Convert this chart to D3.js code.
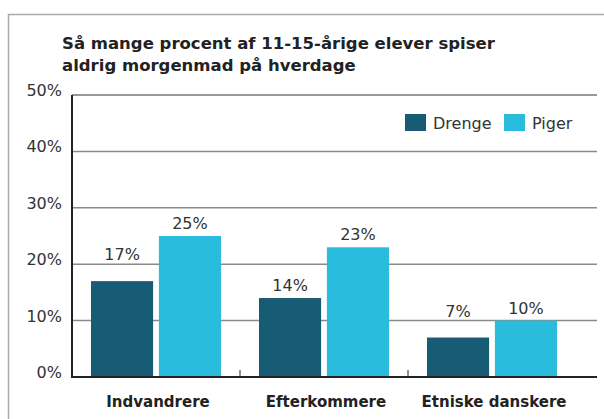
<!DOCTYPE html>
<html>
<head>
<meta charset="utf-8">
<script src="https://cdn.jsdelivr.net/npm/d3@7"></script>
<style>
  body { margin: 0; background: #fff; }
  svg { display: block; font-family: "DejaVu Sans", Verdana, sans-serif; }
</style>
</head>
<body>
<div id="chart"></div>
<script>
var categories = ["Indvandrere", "Efterkommere", "Etniske danskere"];
var series = ["Drenge", "Piger"];
var drenge = [17, 14, 7];
var piger = [25, 23, 10];
var yTicks = [0, 10, 20, 30, 40, 50];
var titleLines = ["Så mange procent af 11-15-årige elever spiser", "aldrig morgenmad på hverdage"];

var width = 604, height = 419;
var plot = { left: 72, right: 576, top: 95, bottom: 377, lineEnd: 597 };
var colors = ["#185b74", "#2abcdd"];

var svg = d3.select("#chart").append("svg")
  .attr("width", width)
  .attr("height", height);

/* outer frame */
svg.append("path")
  .attr("d", "M8.5," + (height + 5) + "V14.5H" + (width + 5))
  .attr("fill", "none")
  .attr("stroke", "#aaa")
  .attr("stroke-width", 1.5);

/* title */
svg.append("text")
  .attr("x", 62)
  .attr("y", 49)
  .attr("font-size", "16.5px")
  .attr("font-weight", "bold")
  .attr("fill", "#222")
  .selectAll("tspan")
  .data(titleLines)
  .enter()
  .append("tspan")
  .attr("x", 62)
  .attr("dy", (d, i) => i ? 22 : 0)
  .text(d => d);

var x0 = d3.scaleBand()
  .domain(categories)
  .range([plot.left, plot.right]);

var x1 = d3.scaleBand()
  .domain(series)
  .range([0, x0.bandwidth()])
  .paddingInner(0.085)
  .paddingOuter(0.28);

var y = d3.scaleLinear()
  .domain([0, 50])
  .range([plot.bottom, plot.top]);

/* gridlines */
svg.append("g")
  .selectAll("line")
  .data(yTicks.filter(d => d > 0))
  .enter()
  .append("line")
  .attr("x1", plot.left)
  .attr("x2", plot.lineEnd)
  .attr("y1", d => y(d))
  .attr("y2", d => y(d))
  .attr("stroke", d => d === 50 ? "#333" : "#8a8a8a")
  .attr("stroke-width", d => d === 50 ? 1.2 : 1.5);

/* y tick labels */
svg.append("g")
  .selectAll("text")
  .data(yTicks)
  .enter()
  .append("text")
  .attr("x", 62)
  .attr("y", d => y(d) + 1)
  .attr("text-anchor", "end")
  .attr("font-size", "16px")
  .attr("fill", "#333")
  .text(d => d + "%");

/* bars */
var rows = categories.map((c, i) => ({ cat: c, values: [drenge[i], piger[i]] }));

var groups = svg.append("g")
  .selectAll("g")
  .data(rows)
  .enter()
  .append("g")
  .attr("transform", d => `translate(${x0(d.cat)},0)`);

groups.selectAll("rect")
  .data(d => d.values.map((v, j) => ({ key: series[j], value: v, idx: j })))
  .enter()
  .append("rect")
  .attr("x", d => x1(d.key))
  .attr("y", d => y(d.value))
  .attr("width", x1.bandwidth())
  .attr("height", d => plot.bottom - y(d.value))
  .attr("fill", d => colors[d.idx]);

/* value labels, nudged above a gridline if they would cross it */
var capH = 12;
function labelY(v) {
  var base = y(v) - 7;
  yTicks.forEach(t => {
    var gy = y(t);
    if (t > 0 && gy > base - capH - 1 && gy < base + 1) base = gy - 4;
  });
  return base;
}

groups.selectAll("text")
  .data(d => d.values.map((v, j) => ({ key: series[j], value: v })))
  .enter()
  .append("text")
  .attr("x", d => x1(d.key) + x1.bandwidth() / 2)
  .attr("y", d => labelY(d.value))
  .attr("text-anchor", "middle")
  .attr("font-size", "16px")
  .attr("fill", "#333")
  .text(d => d.value + "%");

/* axes */
svg.append("line")
  .attr("x1", plot.left).attr("x2", plot.left)
  .attr("y1", plot.top).attr("y2", plot.bottom + 1)
  .attr("stroke", "#222").attr("stroke-width", 2);

svg.append("line")
  .attr("x1", plot.left - 1).attr("x2", plot.lineEnd)
  .attr("y1", plot.bottom).attr("y2", plot.bottom)
  .attr("stroke", "#222").attr("stroke-width", 2);

/* category separators */
svg.append("g")
  .selectAll("line")
  .data(categories.slice(1))
  .enter()
  .append("line")
  .attr("x1", d => x0(d)).attr("x2", d => x0(d))
  .attr("y1", plot.bottom - 7).attr("y2", plot.bottom)
  .attr("stroke", "#222").attr("stroke-width", 1);

/* category labels */
svg.append("g")
  .selectAll("text")
  .data(categories)
  .enter()
  .append("text")
  .attr("x", d => x0(d) + x0.bandwidth() / 2 + 2)
  .attr("y", 407)
  .attr("text-anchor", "middle")
  .attr("font-size", "15px")
  .attr("font-weight", "bold")
  .attr("fill", "#222")
  .text(d => d);

/* legend */
var legendX = [405, 504];
var legend = svg.append("g")
  .selectAll("g")
  .data(series)
  .enter()
  .append("g")
  .attr("transform", (d, i) => `translate(${legendX[i]},114)`);

legend.append("rect")
  .attr("width", 21)
  .attr("height", 17)
  .attr("fill", (d, i) => colors[i]);

legend.append("text")
  .attr("x", 28)
  .attr("y", 14.5)
  .attr("font-size", "16px")
  .attr("fill", "#333")
  .text(d => d);
</script>
</body>
</html>
